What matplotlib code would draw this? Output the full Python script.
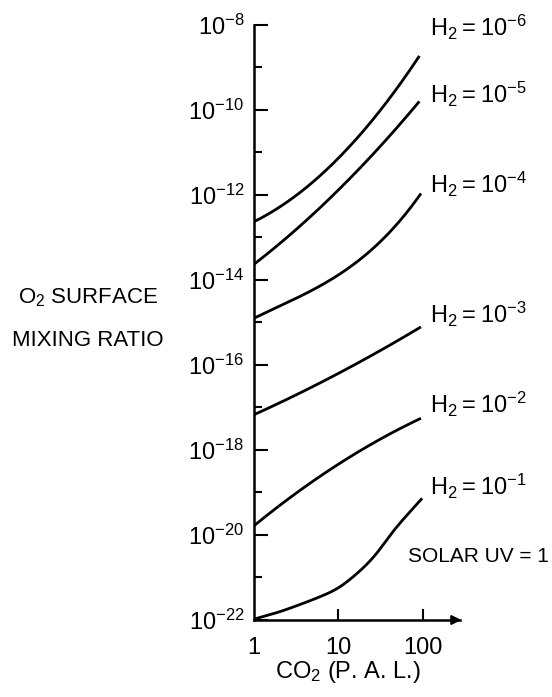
import matplotlib
matplotlib.use("Agg")
import matplotlib.pyplot as plt
import numpy as np
from matplotlib.ticker import NullFormatter

plt.rcParams['font.family'] = ['Liberation Sans', 'DejaVu Sans']
plt.rcParams['mathtext.default'] = 'regular'

# Data: CO2 (P.A.L.) and log10 of O2 surface mixing ratio, one pair per H2 curve
h2_labels = ['-6', '-5', '-4', '-3', '-2', '-1']
co2_h2_6 = [1, 3.3, 8.3, 20.9, 39.8, 91]
o2_h2_6 = [-12.64, -12.0, -11.25, -10.48, -9.77, -8.72]
co2_h2_5 = [1, 2.5, 8.3, 20.9, 51.3, 91]
o2_h2_5 = [-13.6, -13.06, -12.05, -11.18, -10.4, -9.82]
co2_h2_4 = [1, 3.3, 8.3, 17.4, 32.4, 42.7, 95]
o2_h2_4 = [-14.91, -14.4, -14.0, -13.57, -13.06, -12.82, -11.98]
co2_h2_3 = [1, 3.3, 8.3, 20.9, 51.3, 95]
o2_h2_3 = [-17.17, -16.7, -16.27, -15.88, -15.4, -15.12]
co2_h2_2 = [1, 2.1, 5.2, 13.2, 32.4, 95]
o2_h2_2 = [-19.82, -19.23, -18.69, -18.22, -17.75, -17.24]
co2_h2_1 = [1, 2.1, 5.2, 10, 17.4, 27.5, 42.7, 63, 98]
o2_h2_1 = [-21.98, -21.8, -21.51, -21.27, -20.88, -20.5, -19.94, -19.56, -19.14]

# (x, log10 y, smoothing: polynomial degree or 'smooth')
series = [(co2_h2_6, o2_h2_6, 2), (co2_h2_5, o2_h2_5, 2), (co2_h2_4, o2_h2_4, 3),
          (co2_h2_3, o2_h2_3, 2), (co2_h2_2, o2_h2_2, 2), (co2_h2_1, o2_h2_1, 'smooth')]
label_y_px = [27, 94, 184, 314, 404, 486]


def gauss_smooth(lx, ly, sigma=0.09, n=400):
    t = np.linspace(lx[0], lx[-1], n)
    y = np.interp(t, lx, ly)
    dt = t[1] - t[0]
    m = int(3 * sigma / dt)
    # linear extrapolation padding keeps the end points in place
    left = y[0] - (y[1] - y[0]) / dt * dt * np.arange(m, 0, -1)
    s0 = (ly[1] - ly[0]) / (lx[1] - lx[0])
    s1 = (ly[-1] - ly[-2]) / (lx[-1] - lx[-2])
    left = y[0] - s0 * dt * np.arange(m, 0, -1)
    right = y[-1] + s1 * dt * np.arange(1, m + 1)
    ypad = np.concatenate([left, y, right])
    k = np.exp(-0.5 * ((np.arange(-m, m + 1) * dt) / sigma) ** 2)
    k /= k.sum()
    return t, np.convolve(ypad, k, mode='valid')


fig = plt.figure(figsize=(5.52, 6.97), dpi=100)
W, H = 552, 697
ax = fig.add_axes([254 / W, (H - 620) / H, (460 - 254) / W, (620 - 24.5) / H])

for xs, ys, mode in series:
    lx = np.log10(xs)
    if mode == 'smooth':
        t, yv = gauss_smooth(lx, np.asarray(ys, float))
    else:
        coef = np.polyfit(lx, ys, mode)
        t = np.linspace(lx[0], lx[-1], 200)
        yv = np.polyval(coef, t)
    ax.plot(10 ** t, 10.0 ** yv, color='black', lw=2.0, solid_capstyle='butt')

ax.set_xscale('log')
ax.set_yscale('log')
ax.set_xlim(1, 10 ** 2.44)
ax.set_ylim(1e-22, 1e-8)

ax.spines['top'].set_visible(False)
ax.spines['right'].set_visible(False)
ax.spines['left'].set_linewidth(1.8)
ax.spines['bottom'].set_linewidth(1.8)

major_y = [10.0 ** e for e in range(-22, -7, 2)]
minor_y = [10.0 ** e for e in range(-21, -8, 2)]
ax.set_yticks(major_y)
ax.set_yticklabels([r'$10^{%d}$' % e for e in range(-22, -7, 2)])
ax.set_yticks(minor_y, minor=True)
ax.yaxis.set_minor_formatter(NullFormatter())
ax.set_xticks([1, 10, 100])
ax.set_xticklabels(['1', '10', '100'])
ax.set_xticks([], minor=True)
ax.tick_params(axis='y', which='major', direction='in', length=10, width=1.5, labelsize=17, pad=7)
ax.tick_params(axis='y', which='minor', direction='in', length=6, width=1.5)
ax.tick_params(axis='x', which='major', direction='in', length=8, width=1.5, labelsize=17, pad=12)
ax.get_xticklines()[0].set_visible(False)
ax.get_xticklines()[1].set_visible(False)

ax.annotate('', xy=(1.02, 0), xytext=(0.95, 0), xycoords='axes fraction',
            arrowprops=dict(arrowstyle='-|>', color='black', lw=1.5, mutation_scale=14),
            annotation_clip=False)

for lab, ypx in zip(h2_labels, label_y_px):
    fig.text(430 / W, 1 - ypx / H, r'$H_2 = 10^{%s}$' % lab, fontsize=17,
             ha='left', va='center')

fig.text(549 / W, 1 - 556 / H, 'SOLAR UV = 1', fontsize=15, ha='right', va='center')
fig.text(88 / W, 1 - 298 / H, r'$O_2$ SURFACE', fontsize=16, ha='center', va='center')
fig.text(88 / W, 1 - 341 / H, 'MIXING RATIO', fontsize=16, ha='center', va='center')
fig.text(348 / W, 1 - 672 / H, r'$CO_2$ (P. A. L.)', fontsize=17, ha='center', va='center')

fig.savefig('out.png', dpi=100)
